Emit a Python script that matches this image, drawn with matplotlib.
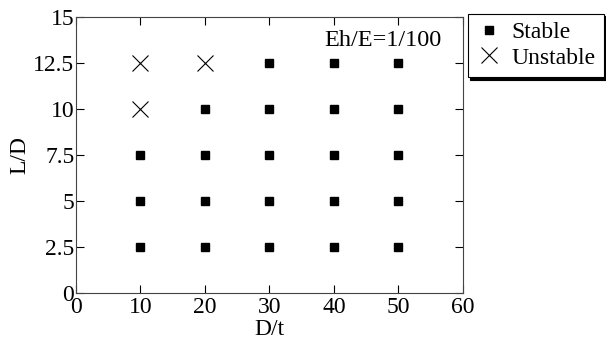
import matplotlib
matplotlib.use("Agg")
import matplotlib.pyplot as plt

plt.rcParams['font.family'] = ['Liberation Serif', 'DejaVu Serif']
plt.rcParams['font.size'] = 17

# stable points (D/t, L/D)
stable_x = [10, 10, 10, 20, 20, 20, 20, 30, 30, 30, 30, 30,
            40, 40, 40, 40, 40, 50, 50, 50, 50, 50]
stable_y = [2.5, 5, 7.5, 2.5, 5, 7.5, 10, 2.5, 5, 7.5, 10, 12.5,
            2.5, 5, 7.5, 10, 12.5, 2.5, 5, 7.5, 10, 12.5]
# unstable points
unstable_x = [10, 10, 20]
unstable_y = [10, 12.5, 12.5]

xticks = [0, 10, 20, 30, 40, 50, 60]
yticks = [0, 2.5, 5, 7.5, 10, 12.5, 15]
ytick_labels = ['0', '2.5', '5', '7.5', '10', '12.5', '15']

fig = plt.figure(figsize=(6.06, 3.47), dpi=100)
ax = fig.add_axes([0.125, 0.156, 0.639, 0.795])

ax.plot(stable_x, stable_y, 's', color='black', markersize=6.3, linestyle='none', label='Stable')
ax.plot(unstable_x, unstable_y, 'x', color='black', markersize=11, markeredgewidth=0.8,
        linestyle='none', label='Unstable')

ax.set_xlim(0, 60)
ax.set_ylim(0, 15)
ax.set_xticks(xticks)
ax.set_yticks(yticks)
ax.set_yticklabels(ytick_labels)
ax.tick_params(direction='in', top=True, right=True, length=6, width=0.8, pad=1)
ax.tick_params(axis='x', pad=3)
for s in ax.spines.values():
    s.set_color('#444444')
ax.set_xlabel('D/t', labelpad=1)
ax.set_ylabel('L/D', labelpad=2)

ax.text(56.6, 13.7, 'Eh/E=1/100', ha='right', va='center', fontsize=17.5)

leg = ax.legend(loc='upper left', bbox_to_anchor=(1.012, 1.012), frameon=True,
                fancybox=False, shadow={'color': 'black', 'alpha': 1.0},
                borderaxespad=0, handletextpad=0.4,
                handlelength=1.1, borderpad=0.35, labelspacing=0.15)
leg.get_frame().set_edgecolor('black')
leg.get_frame().set_linewidth(0.8)

fig.savefig('out.png', dpi=100)
